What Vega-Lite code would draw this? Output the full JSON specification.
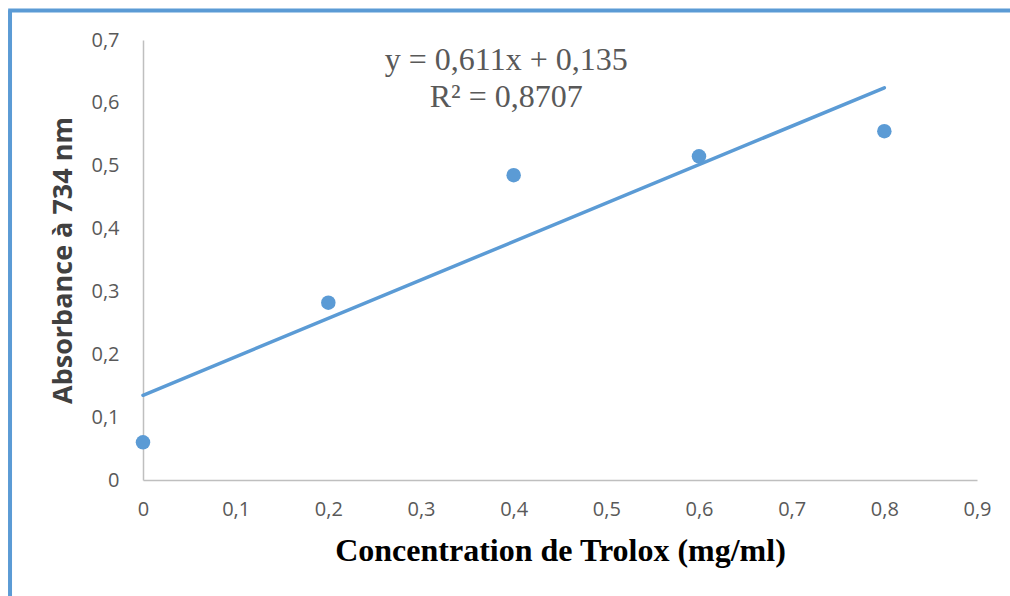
{
  "$schema": "https://vega.github.io/schema/vega-lite/v6.json",
  "width": 834,
  "height": 440,
  "autosize": {"type": "none"},
  "padding": {"left": 143, "top": 40, "right": 33, "bottom": 116},
  "background": "#ffffff",
  "config": {
    "view": {"stroke": null},
    "axis": {
      "grid": false,
      "ticks": false,
      "labelFlush": false,
      "labelOverlap": false,
      "domainColor": "#bfbfbf",
      "domainWidth": 1.5,
      "labelFont": "Open Sans",
      "labelFontSize": 20,
      "labelColor": "#595959",
      "titleColor": "#404040"
    }
  },
  "datasets": {
    "trolox": [
      {"conc": 0.0, "abs": 0.060},
      {"conc": 0.2, "abs": 0.282},
      {"conc": 0.4, "abs": 0.485},
      {"conc": 0.6, "abs": 0.515},
      {"conc": 0.8, "abs": 0.555}
    ],
    "equation": [
      {"label": ["y = 0,611x + 0,135", "R² = 0,8707"]}
    ]
  },
  "layer": [
    {
      "data": {"values": [{}]},
      "mark": {"type": "rule", "color": "#5b9bd5", "strokeWidth": 4, "clip": false},
      "encoding": {
        "x": {"datum": -0.1435, "type": "quantitative"},
        "y": {"datum": 0.7475, "type": "quantitative"},
        "y2": {"datum": -0.3}
      }
    },
    {
      "data": {"values": [{}]},
      "mark": {"type": "rule", "color": "#5b9bd5", "strokeWidth": 4, "clip": false},
      "encoding": {
        "x": {"datum": -0.1455, "type": "quantitative"},
        "x2": {"datum": 1.0},
        "y": {"datum": 0.7469, "type": "quantitative"}
      }
    },
    {
      "data": {"name": "trolox"},
      "transform": [{"regression": "abs", "on": "conc", "method": "linear"}],
      "mark": {"type": "line", "color": "#5b9bd5", "strokeWidth": 3.5, "strokeCap": "round"},
      "encoding": {
        "x": {"field": "conc", "type": "quantitative"},
        "y": {"field": "abs", "type": "quantitative"}
      }
    },
    {
      "data": {"name": "trolox"},
      "mark": {"type": "circle", "color": "#5b9bd5", "opacity": 1, "size": 210},
      "encoding": {
        "x": {
          "field": "conc",
          "type": "quantitative",
          "scale": {"domain": [0, 0.9], "nice": false},
          "axis": {
            "values": [0, 0.1, 0.2, 0.3, 0.4, 0.5, 0.6, 0.7, 0.8, 0.9],
            "labelExpr": "replace(format(datum.value, '.1~f'), '.', ',')",
            "labelPadding": 19,
            "title": "Concentration de Trolox (mg/ml)",
            "titleFont": "Liberation Serif",
            "titleFontSize": 32,
            "titleFontWeight": "bold",
            "titleColor": "#000000",
            "titlePadding": 16
          }
        },
        "y": {
          "field": "abs",
          "type": "quantitative",
          "scale": {"domain": [0, 0.7], "nice": false},
          "axis": {
            "values": [0, 0.1, 0.2, 0.3, 0.4, 0.5, 0.6, 0.7],
            "labelExpr": "replace(format(datum.value, '.1~f'), '.', ',')",
            "labelPadding": 24,
            "title": "Absorbance à 734 nm",
            "titleFont": "Open Sans",
            "titleFontSize": 27,
            "titleFontWeight": "bold",
            "titlePadding": 13
          }
        }
      }
    },
    {
      "data": {"name": "equation"},
      "mark": {
        "type": "text",
        "font": "Liberation Serif",
        "fontSize": 32,
        "color": "#595959",
        "align": "center",
        "baseline": "middle",
        "lineHeight": 37
      },
      "encoding": {
        "x": {"datum": 0.392, "type": "quantitative"},
        "y": {"datum": 0.668, "type": "quantitative"},
        "text": {"field": "label"}
      }
    }
  ]
}
